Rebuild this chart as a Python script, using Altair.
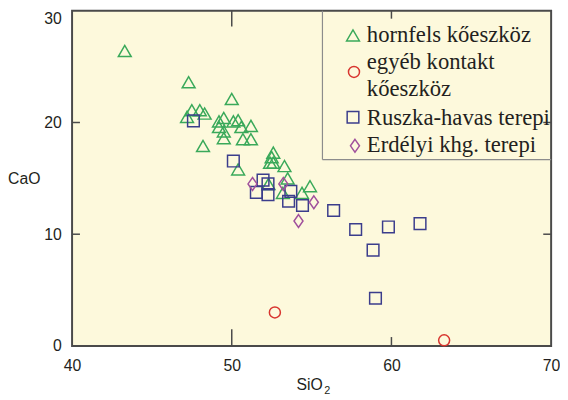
import altair as alt
import pandas as pd

# ---- data ----
groups = ["hornfels kőeszköz", "egyéb kontakt kőeszköz", "Ruszka-havas terepi", "Erdélyi khg. terepi"]

hornfels_sio2 = [43.3, 47.3, 50.0, 47.5, 48.0, 48.3, 47.2, 49.2, 49.5, 49.2, 49.5, 49.5, 50.1, 50.4, 50.6,
                 51.2, 50.7, 51.2, 48.2, 50.4, 52.6, 52.5, 52.4, 52.6, 53.3, 53.5, 54.9, 54.4, 53.2, 52.3]
hornfels_cao = [26.4, 23.6, 22.1, 21.1, 21.1, 20.8, 20.5, 20.1, 20.4, 19.6, 19.2, 18.6, 20.1, 20.2, 19.6,
                19.7, 18.5, 18.5, 17.9, 15.8, 17.3, 16.9, 16.4, 16.4, 16.1, 15.0, 14.3, 13.7, 13.7, 14.5]

kontakt_sio2 = [52.7, 63.3]
kontakt_cao = [3.0, 0.5]

ruszka_sio2 = [47.6, 50.1, 51.96, 52.27, 51.54, 52.27, 53.7, 53.56, 54.43, 56.38, 57.76, 59.81, 61.79, 58.85, 59.0]
ruszka_cao = [20.15, 16.55, 14.84, 14.5, 13.74, 13.54, 13.83, 12.95, 12.57, 12.12, 10.42, 10.65, 10.95, 8.58, 4.27]

erdelyi_sio2 = [51.3, 53.23, 55.14, 54.18]
erdelyi_cao = [14.5, 14.5, 12.86, 11.18]

x_tick_labels = [40, 50, 60, 70]
y_tick_labels = [0, 10, 20, 30]
x_ticks_long = [50]
x_ticks_short = [60]
y_ticks = [10, 20]

# ---- styles ----
colors = ["#3aa95a", "#d8352f", "#3b3d8c", "#a0509c"]
shapes = ["triangle-up", "circle", "square", "M0,-1L0.7,0L0,1L-0.7,0Z"]
sizes = [170, 125, 140, 170]
BG = "#fdf9dc"
FRAME = "#4a4a4a"
W, H = 486, 340

xscale = alt.Scale(domain=[40, 70], nice=False, zero=False)
yscale = alt.Scale(domain=[0, 30], nice=False, zero=False)
xaxis = alt.Axis(values=x_tick_labels, title=None, ticks=False, domain=False, grid=False,
                 labelPadding=12, labelFlush=False, format="d")
yaxis = alt.Axis(values=y_tick_labels, title=None, ticks=False, domain=False, grid=False,
                 labelPadding=11, labelFlush=False, format="d",
                 labelBaseline=alt.condition("datum.value == 30", alt.value("top"), alt.value("middle")))

series = [(hornfels_sio2, hornfels_cao), (kontakt_sio2, kontakt_cao),
          (ruszka_sio2, ruszka_cao), (erdelyi_sio2, erdelyi_cao)]

point_layers = []
for i, (xs, ys) in enumerate(series):
    d = pd.DataFrame({"SiO2": xs, "CaO": ys, "group": groups[i]})
    point_layers.append(
        alt.Chart(d).mark_point(shape=shapes[i], size=sizes[i], color=colors[i], filled=False,
                                strokeWidth=1.5, opacity=1).encode(
            x=alt.X("SiO2:Q", scale=xscale, axis=xaxis),
            y=alt.Y("CaO:Q", scale=yscale, axis=yaxis),
            tooltip=["group:N", "SiO2:Q", "CaO:Q"],
        )
    )

def xtick_layer(vals, y0, y1):
    return alt.Chart(pd.DataFrame({"SiO2": vals})).mark_rule(color=FRAME, strokeWidth=1.5).encode(
        x=alt.X("SiO2:Q", scale=xscale, axis=xaxis), y=alt.value(y0), y2=alt.value(y1))

def ytick_layer(vals, x0, x1):
    return alt.Chart(pd.DataFrame({"CaO": vals})).mark_rule(color=FRAME, strokeWidth=1.5).encode(
        y=alt.Y("CaO:Q", scale=yscale, axis=yaxis), x=alt.value(x0), x2=alt.value(x1))

ticks = [
    xtick_layer(x_ticks_long, H, H - 17),
    xtick_layer(x_ticks_short, H, H - 9),
    xtick_layer(x_ticks_long, 0, 16),
    xtick_layer(x_ticks_short, 0, 8),
    ytick_layer(y_ticks, 0, 8),
    ytick_layer(y_ticks, W, W - 8),
]

one = pd.DataFrame({"a": [0]})

def txt(s, x, y, size=16, font="Liberation Sans", align="left"):
    return alt.Chart(one).mark_text(font=font, fontSize=size, align=align, baseline="middle",
                                    color="#231f20").encode(
        x=alt.value(x), y=alt.value(y), text=alt.value(s))

def sym(i, x, y):
    return alt.Chart(one).mark_point(shape=shapes[i], size=sizes[i], color=colors[i], filled=False,
                                     strokeWidth=1.5, opacity=1).encode(x=alt.value(x), y=alt.value(y))

# legend frame (left & bottom edges; top/right coincide with the plot frame)
LX0, LY1 = 254, 151
legend_edges = [
    alt.Chart(one).mark_rule(color="#8c8c8c", strokeWidth=1.2).encode(
        x=alt.value(LX0), y=alt.value(0), y2=alt.value(LY1)),
    alt.Chart(one).mark_rule(color="#8c8c8c", strokeWidth=1.2).encode(
        x=alt.value(LX0), x2=alt.value(W), y=alt.value(LY1)),
]

SERIF = "Liberation Serif"
LF = 23
legend = [
    sym(0, 285, 25), txt(groups[0], 299, 25, LF, SERIF),
    sym(1, 286, 62), txt("egyéb kontakt", 299, 52, LF, SERIF), txt("kőeszköz", 299, 79, LF, SERIF),
    sym(2, 285, 108), txt(groups[2], 299, 109, LF, SERIF),
    sym(3, 287, 137), txt(groups[3], 299, 136, LF, SERIF),
]

titles = [
    txt("CaO", -65, 171, 16),
    txt("SiO", 241, 380, 16, align="center"),
    txt("2", 259, 386, 11, align="center"),
]

chart = alt.layer(*ticks, *legend_edges, *point_layers, *legend, *titles).properties(
    width=W, height=H,
    autosize=alt.AutoSizeParams(type="none"),
    padding={"left": 65, "top": 0, "right": 9, "bottom": 50},
).configure_view(
    fill=BG, stroke=FRAME, strokeWidth=2
).configure_axis(
    labelFont="Liberation Sans", labelFontSize=16, labelColor="#231f20"
)

chart.save("out.html", embed_options={"renderer": "svg", "actions": False})
